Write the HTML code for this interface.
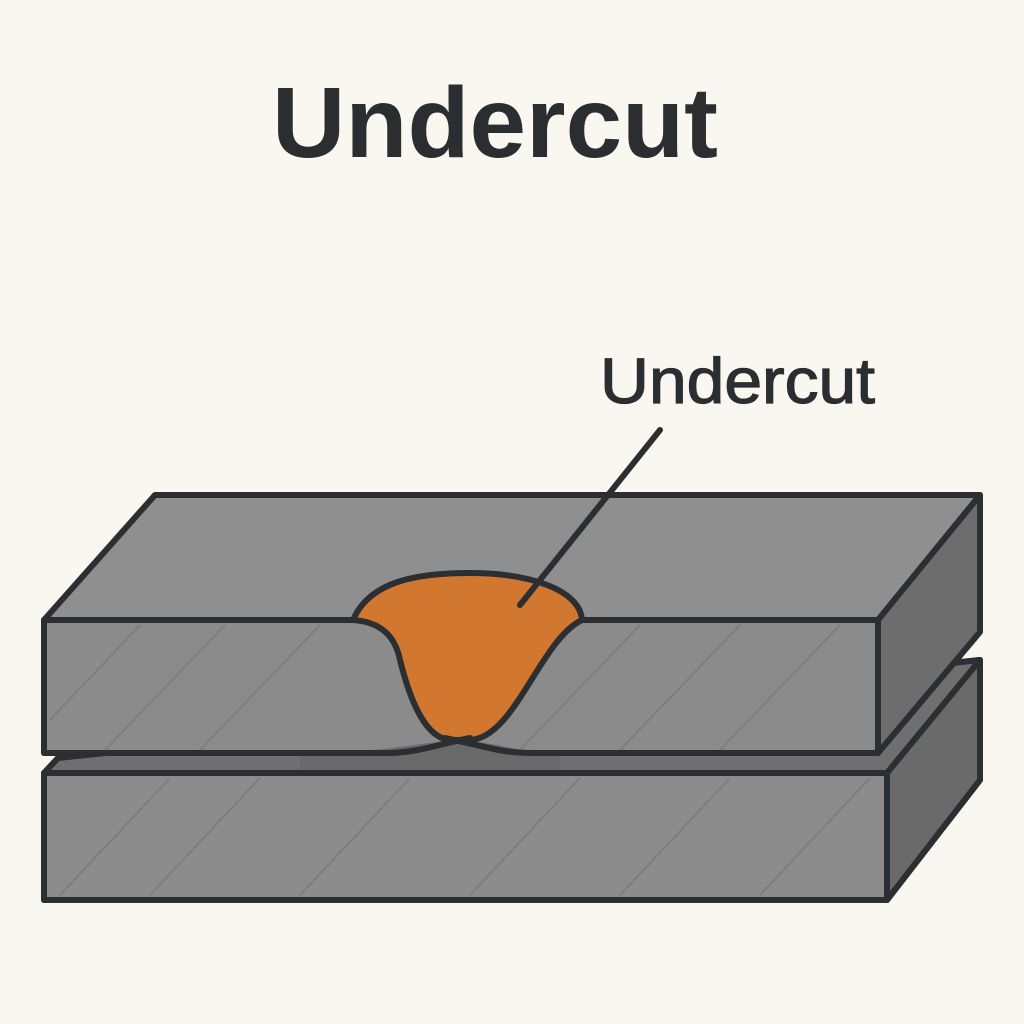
<!DOCTYPE html>
<html><head><meta charset="utf-8"><style>
html,body{margin:0;padding:0;background:#faf7f1;}
svg{display:block}
</style></head><body>
<svg width="1024" height="1024" viewBox="0 0 1024 1024" xmlns="http://www.w3.org/2000/svg">
<rect width="1024" height="1024" fill="#faf7f1"/>
<text x="495" y="157" text-anchor="middle" font-family="Liberation Sans, sans-serif" font-weight="bold" font-size="100" fill="#2a2e31" textLength="446" lengthAdjust="spacingAndGlyphs">Undercut</text>
<text x="600" y="403" font-family="Liberation Sans, sans-serif" font-size="64" fill="#2a2e31" stroke="#2a2e31" stroke-width="1.2" textLength="275" lengthAdjust="spacingAndGlyphs">Undercut</text>
<g stroke="#2b2f31" stroke-width="6" stroke-linejoin="round">
<polygon points="58,758 980,660 980,780 887,900 44,900 44,773" fill="#7c7c7c"/>
<polygon points="58,758 980,660 887,773 44,773" fill="#6f6f6f"/>
<polygon points="887,773 980,660 980,780 887,900" fill="#6a6a6a"/>
<rect x="44" y="773" width="843" height="127" fill="#8c8c8c"/>
<polygon points="155,495 980,495 878,620 44,620" fill="#8f8f8f"/>
<polygon points="878,620 980,495 980,632 878,753" fill="#6d6d6d"/>
<rect x="44" y="620" width="834" height="133" fill="#8b8b8b"/>
</g>
<g stroke="#7a7a7a" stroke-width="2" opacity="0.8">
<line x1="50" y1="720" x2="140" y2="625"/><line x1="105" y1="750" x2="225" y2="625"/>
<line x1="200" y1="750" x2="320" y2="625"/><line x1="520" y1="750" x2="640" y2="625"/>
<line x1="620" y1="750" x2="740" y2="625"/><line x1="720" y1="750" x2="840" y2="625"/>
<line x1="60" y1="895" x2="170" y2="778"/><line x1="150" y1="895" x2="260" y2="778"/>
<line x1="300" y1="895" x2="410" y2="778"/><line x1="470" y1="895" x2="580" y2="778"/>
<line x1="620" y1="895" x2="730" y2="778"/><line x1="760" y1="895" x2="870" y2="778"/>
</g>
<path d="M300,753 C390,753 420,742 458,740 C495,742 520,753 560,753 L560,770 L300,770Z" fill="#6a6a6a"/>
<path d="M353,620 C370,580 420,573 470,573 C530,573 580,590 582,620 C540,640 515,738 470,740 L450,740 C425,738 410,700 400,660 C395,635 380,622 353,620Z" fill="#d2772f" stroke="#2b2f31" stroke-width="6" stroke-linejoin="round"/>
<g fill="none" stroke="#2b2f31" stroke-width="6" stroke-linecap="round">
<path d="M44,753 L390,753 C420,752 435,745 470,738"/>
<path d="M445,738 C480,745 500,753 530,753 L878,753"/>
<path d="M44,620 L353,620 M582,620 L878,620"/>
<line x1="660" y1="430" x2="520" y2="605"/>
</g>
</svg>
</body></html>
